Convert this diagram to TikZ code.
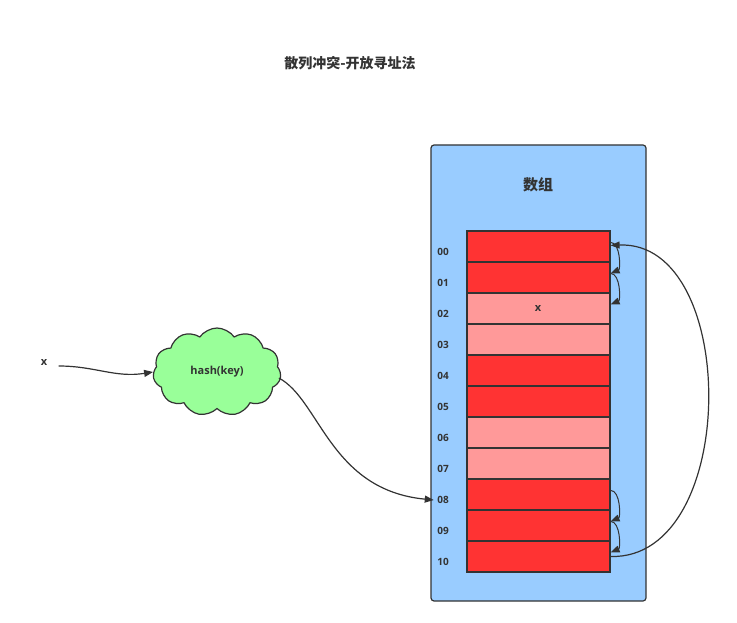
\documentclass[tikz,border=0pt]{standalone}
\usepackage{fontspec}
\setmainfont{Open Sans}
\newfontfamily\cjk{Noto Sans CJK SC}
\usetikzlibrary{shapes.symbols,arrows.meta}
\definecolor{cred}{HTML}{FF3333}
\definecolor{cpink}{HTML}{FF9999}
\definecolor{cblue}{HTML}{99CCFF}
\definecolor{cgreen}{HTML}{99FF99}
\definecolor{ink}{HTML}{333333}
\tikzset{
 cell/.style={draw=ink,line width=1.2pt,minimum width=143pt,minimum height=31pt,inner sep=0pt},
 idx/.style={text=ink,font=\bfseries\fontsize{10}{12}\selectfont},
 conn/.style={draw=ink,line width=1.2pt,-{Triangle[length=9pt,width=7pt]}}
}
\begin{document}
\begin{tikzpicture}[x=1pt,y=-1pt]
\useasboundingbox (0,0) rectangle (737,623);
\node[text=ink,font=\cjk\bfseries\fontsize{14}{16}\selectfont] (title) at (350,63) {散列冲突-开放寻址法};
\node[draw=ink,fill=cblue,line width=1.2pt,rounded corners=3pt,minimum width=215pt,minimum height=456pt,inner sep=0pt] (arr) at (538.5,373) {};
\node[text=ink,font=\cjk\bfseries\fontsize{15}{17}\selectfont] (lbl) at (538,185) {数组};
\foreach \i/\c/\t in {0/cred/00,1/cred/01,2/cpink/02,3/cpink/03,4/cred/04,5/cred/05,6/cpink/06,7/cpink/07,8/cred/08,9/cred/09,10/cred/10}{
  \node[cell,fill=\c] (c\i) at (538.5,{246.5+31*\i}) {};
  \node[idx] (l\i) at (443,{252+31*\i}) {\t};
}
\node[idx,font=\bfseries\fontsize{11}{13}\selectfont] (xin) at (538,308) {x};
\node[cloud,cloud puffs=11,cloud puff arc=110,aspect=1.5,draw=ink,fill=cgreen,line width=1.2pt,minimum width=128pt,minimum height=88pt,inner sep=0pt,text=ink,font=\bfseries\fontsize{11}{13}\selectfont] (hash) at (217,372) {hash(key)};
\node[idx,font=\bfseries\fontsize{11}{13}\selectfont] (x) at (44,362) {x};
\draw[conn] (x.east)+(8,4) .. controls (95,366) and (115,378) .. (hash.west);
\draw[conn] (hash.east)+(-2,6) .. controls (320,400) and (330,490) .. (l8.west);
\foreach \a/\b in {0/1,1/2,8/9,9/10}{
  \draw[conn,line width=1pt] ([yshift=-12pt]c\a.north east) .. controls +(10,0) and +(10,-4) .. ([yshift=-12pt]c\b.north east);
}
\draw[conn] (c10.east) .. controls (740,560) and (740,240) .. ([yshift=-15pt]c0.north east);
\end{tikzpicture}
\end{document}
